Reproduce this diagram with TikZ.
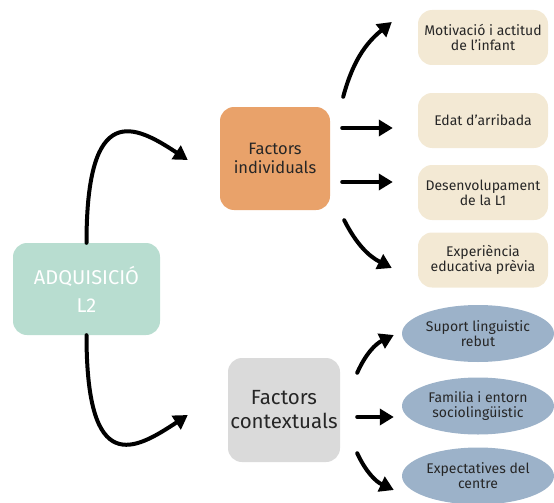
\documentclass[tikz,border=0pt]{standalone}
\usepackage{fontspec}
\setmainfont{Fira Sans}
\usetikzlibrary{arrows.meta,shapes.geometric}
\definecolor{menta}{RGB}{184,221,208}
\definecolor{taronja}{RGB}{233,162,106}
\definecolor{gris}{RGB}{218,218,218}
\definecolor{beix}{RGB}{243,233,212}
\definecolor{blaugris}{RGB}{156,178,201}
\begin{document}
\begin{tikzpicture}[x=1pt,y=1pt, line join=round, line cap=round,
	fletxa/.style={line width=4pt, -{Triangle[length=14pt,width=16pt]}},
	caixa/.style={rounded corners=14pt, align=center, inner sep=0pt, text=black!85},
	factor/.style={caixa, minimum width=130pt, minimum height=55pt, fill=beix, font=\fontsize{14}{15}\selectfont},
	oval/.style={ellipse, fill=blaugris, minimum width=152pt, minimum height=57pt, inner sep=0pt, align=center, text=black!85, font=\fontsize{14}{15}\selectfont}]
	\useasboundingbox (0,0) rectangle (554,-503);
	% caixes principals
	\node[caixa, fill=menta, minimum width=147pt, minimum height=92pt, text=white, font=\fontsize{20}{28}\selectfont] (adq) at (86.5,-289) {ADQUISICIÓ\\L2};
	\node[caixa, fill=taronja, minimum width=110pt, minimum height=103pt, font=\fontsize{16.5}{19}\selectfont] (ind) at (275,-158.5) {Factors\\individuals};
	\node[caixa, fill=gris, minimum width=112pt, minimum height=104pt, font=\fontsize{20.5}{24}\selectfont] (ctx) at (284,-410) {Factors\\contextuals};
	% factors individuals
	\node[factor] (mot) at (483,-37.5) {Motivació i actitud\\de l'infant};
	\node[factor] (edat) at (483,-120.5) {Edat d'arribada};
	\node[factor] (des) at (483,-192.5) {Desenvolupament\\de la L1};
	\node[factor] (exp) at (483,-260) {Experiència\\educativa prèvia};
	% factors contextuals
	\node[oval] (sup) at (478,-333.5) {Suport linguistic\\rebut};
	\node[oval] (fam) at (478,-406) {Familia i entorn\\sociolingüistic};
	\node[oval] (cen) at (478,-476) {Expectatives del\\centre};
	% fletxes
	\draw[fletxa] (adq.north) .. controls +(0,143) and +(-53,35) .. ([shift={(-32,-1.5)}]ind.west);
	\draw[fletxa] (adq.south) .. controls +(0,-143) and +(-53,-35) .. ([shift={(-40,-5)}]ctx.west);
	\draw[fletxa] ([shift={(13,10)}]ind.north east) to[bend left=18] ([shift={(-26,15.5)}]mot.west);
	\draw[fletxa] ([shift={(12,30.5)}]ind.east) -- ([shift={(-25,-7.5)}]edat.west);
	\draw[fletxa] ([shift={(12,-23.5)}]ind.east) -- ([shift={(-25,10.5)}]des.west);
	\draw[fletxa] ([shift={(14,-10)}]ind.south east) to[bend right=18] ([shift={(-26,-8)}]exp.west);
	\draw[fletxa] ([shift={(17,-15)}]ctx.north east) to[bend left=20] ([shift={(-8,-1.5)}]sup.west);
	\draw[fletxa] ([shift={(17,-7)}]ctx.east) -- ([shift={(-8,-11)}]fam.west);
	\draw[fletxa] ([shift={(17,9)}]ctx.south east) to[bend right=20] ([shift={(-8,-14)}]cen.west);
\end{tikzpicture}
\end{document}
